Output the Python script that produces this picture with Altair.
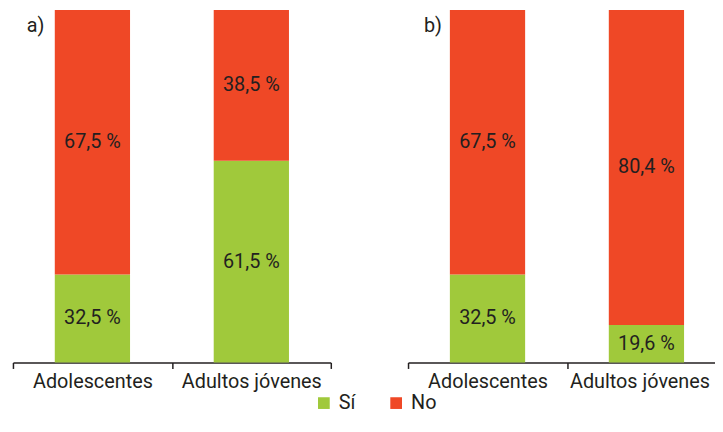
import altair as alt
import pandas as pd

groups = ["Adolescentes", "Adultos jóvenes"]
responses = ["Sí", "No"]
si_a = [32.5, 61.5]
no_a = [67.5, 38.5]
si_b = [32.5, 19.6]
no_b = [67.5, 80.4]
panel_tags = ["a)", "b)"]

GREEN = "#A0C93B"
RED = "#EF4826"
INK = "#231F20"
FONT = "Roboto"
FS = 20
YMIN = 10


def make_df(si, no):
    rows = []
    for g, s, n in zip(groups, si, no):
        for resp, lo, hi in (("Sí", 0, s), ("No", s, s + n)):
            v = hi - lo
            rows.append({
                "group": g, "resp": resp, "y0": lo, "y1": hi,
                "mid": (max(lo, YMIN) + hi) / 2,
                "label": f"{v:.1f}".replace(".", ",") + " %",
            })
    return pd.DataFrame(rows)


def panel(si, no, tag, tag_x, last_label_shift):
    df = make_df(si, no)
    xenc = alt.X(
        "group:N", sort=groups, title=None,
        scale=alt.Scale(paddingInner=0, paddingOuter=0),
        axis=alt.Axis(labelAngle=0, tickBand="extent", tickSize=6,
                      domainColor=INK, tickColor=INK, domainWidth=1.5,
                      tickWidth=1.5, labelFont=FONT, labelFontSize=FS,
                      labelColor=INK, labelPadding=3,
                      labelOffset={"condition": {"test": f"datum.value === '{groups[1]}'",
                                                 "value": last_label_shift},
                                   "value": 0}),
    )
    base = alt.Chart(df)
    bars = base.mark_bar(clip=True, width=76).encode(
        x=xenc,
        y=alt.Y("y0:Q", scale=alt.Scale(domain=[YMIN, 100], nice=False, zero=False), axis=None),
        y2="y1:Q",
        color=alt.Color("resp:N", sort=responses,
                        scale=alt.Scale(domain=responses, range=[GREEN, RED]),
                        legend=alt.Legend(title=None, orient="none",
                                          legendX=304, legendY=387,
                                          direction="horizontal")),
    )
    text = base.mark_text(font=FONT, fontSize=FS, color=INK, baseline="middle").encode(
        x=alt.X("group:N", sort=groups),
        y=alt.Y("mid:Q"),
        text="label:N",
    )
    lab = alt.Chart(pd.DataFrame({"t": [tag]})).mark_text(
        font=FONT, fontSize=FS, color=INK, align="left", baseline="alphabetic"
    ).encode(x=alt.value(tag_x), y=alt.value(22), text="t:N")
    return alt.layer(bars, text, lab).properties(width=321, height=356)


chart = alt.hconcat(
    panel(si_a, no_a, panel_tags[0], 14, 0),
    panel(si_b, no_b, panel_tags[1], 16, -7),
    spacing=76,
).properties(
    padding={"left": 4, "top": 0, "right": -12, "bottom": 0}
).configure_view(stroke=None).configure_legend(
    symbolType="square", symbolSize=140, symbolStrokeWidth=0,
    labelFont=FONT, labelFontSize=FS, labelColor=INK,
    columnPadding=31, labelOffset=5,
)

chart.save("out.html", embed_options={"renderer": "svg", "actions": False})
